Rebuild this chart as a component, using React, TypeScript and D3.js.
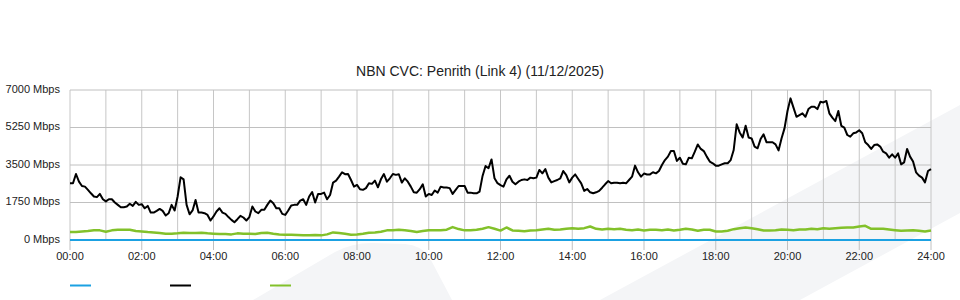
import React from 'react';
import * as d3 from 'd3';

const TITLE = 'NBN CVC: Penrith (Link 4) (11/12/2025)';
const yTicks = [0, 1750, 3500, 5250, 7000];
const xTickLabels = ['00:00','02:00','04:00','06:00','08:00','10:00','12:00','14:00','16:00','18:00','20:00','22:00','24:00'];
const legendColors = ['#1ba1e2', '#000000', '#82c12a'];

// black series, 5-minute samples from 00:00 to 24:00 (Mbps)
const blackMbps = [
  2650,2650,3080,2725,2520,2490,2340,2180,2030,2000,2150,1900,
  1800,1900,1900,1750,1640,1530,1530,1560,1690,1590,1780,1640,
  1670,1480,1590,1280,1280,1360,1450,1360,1140,1250,1640,1380,
  2030,2930,2830,1640,1200,1380,1870,1280,1280,1250,1170,910,
  1100,1330,1480,1280,1220,1070,940,830,970,1130,1050,910,
  1070,1560,1330,1250,1410,1410,1640,1840,1720,1480,1480,1220,
  1170,1380,1610,1640,1640,1840,1900,1640,2030,2240,1750,2150,
  2150,2210,1900,2100,2680,2770,2960,3160,3070,3080,2800,2490,
  2570,2370,2340,2420,2650,2620,2770,2460,2830,3080,2720,2880,
  3080,3040,3070,2680,2880,2720,2490,2230,2210,2370,2600,2030,
  2150,2100,2310,2210,2490,2450,2450,2420,2150,2340,2520,2520,
  2520,2210,2210,2180,2180,2260,2990,3450,3350,3760,2880,2650,
  2560,
  2490,2830,3000,2720,2600,2720,2800,2830,2800,2910,2880,2910,
  3270,3110,3310,2910,2690,2750,2800,2880,3220,3030,2690,2910,
  3060,2850,2645,2290,2380,2225,2180,2225,2290,2440,2600,2750,
  2645,2675,2675,2645,2675,2645,2800,2955,3470,3160,2955,3100,
  3060,3060,3160,3110,3220,3500,3730,3890,4150,4150,3690,3840,
  3560,3530,3840,3810,4120,4460,4250,4150,3890,3660,3580,3470,
  3470,3530,3580,3580,3730,4200,5400,5020,4780,5330,4780,4740,
  4360,4280,4710,4930,4560,4560,4560,4460,4180,4740,5210,6020,
  6610,6180,5750,5830,5910,5750,6110,6220,6220,6110,6450,6420,
  6490,5910,5710,5550,6020,5330,5240,4900,4820,4980,5020,5120,
  4980,4560,4430,4250,4430,4460,4360,4120,4040,3840,4000,3840,
  4040,3530,3620,4250,3890,3660,3160,3000,2910,2690,3220,3310,
];

// green series, 10-minute samples from 00:00 to 24:00 (Mbps)
const greenMbps = [
  370,370,402,418,450,450,
  386,450,480,480,480,418,
  402,370,355,325,294,294,
  310,340,325,325,340,310,
  294,278,278,262,310,294,
  294,278,325,340,294,262,
  247,247,230,216,216,230,
  216,262,355,325,294,247,
  262,294,340,355,386,450,
  450,480,450,418,370,418,
  450,450,450,480,603,510,
  450,450,480,526,600,526,
  440,584,444,429,413,444,
  460,491,522,475,491,522,
  553,522,553,631,522,491,
  522,506,522,475,460,491,
  444,475,475,460,491,444,
  475,522,491,429,475,475,
  398,398,429,506,553,584,
  553,506,444,444,460,491,
  475,460,491,491,522,506,
  553,522,553,569,584,584,
  631,660,520,522,522,491,
  460,429,444,460,429,398,
  444,
];

// blue series (Mbps) at 00:00 and 24:00
const blueMinutes = [0, 1440];
const blueMbps = [0, 0];

const FONT = '"Liberation Sans", Arial, Helvetica, sans-serif';

export default function App() {
  const W = 960, H = 300;
  const x = d3.scaleLinear().domain([0, 1440]).range([70, 931]);
  const y = d3.scaleLinear().domain([0, 7000]).range([240, 90]);

  const blackPath = d3.line<number>().x((_, i) => x(i * 5)).y(d => y(d))(blackMbps) || '';
  const greenPath = d3.line<number>().x((_, i) => x(i * 10)).y(d => y(d))(greenMbps) || '';
  const bluePath = d3.line<number>().x((_, i) => x(blueMinutes[i])).y(d => y(d))(blueMbps) || '';

  const hours = d3.range(0, 25);

  return (
    <div style={{ position: 'absolute', left: 0, top: 0 }}>
      <svg width={W} height={H} style={{ display: 'block', fontFamily: FONT }}>
        <rect x={0} y={0} width={W} height={H} fill="#ffffff" />
        {/* watermark shapes */}
        <path d="M253,300 L335,252 Q352,243 372,243 L405,244 Q425,246 432,262 L452,300 Z" fill="#f4f5f7" />
        <path d="M600,300 L960,105 L960,213 L800,300 Z" fill="#f4f5f7" />

        {/* grid */}
        {hours.map(h => (
          <line key={'v' + h} x1={x(h * 60)} x2={x(h * 60)} y1={y(7000)} y2={y(0)} stroke="#c6c6c6" strokeWidth={1} />
        ))}
        {yTicks.map(t => (
          <line key={'h' + t} x1={x(0)} x2={x(1440)} y1={y(t)} y2={y(t)} stroke="#c0c0c0" strokeWidth={1} />
        ))}
        {xTickLabels.map((lab, i) => (
          <g key={lab}>
            <line x1={x(i * 120)} x2={x(i * 120)} y1={y(0)} y2={y(0) + 10} stroke="#c0c0c0" strokeWidth={1} />
            <text x={x(i * 120)} y={260} textAnchor="middle" fontSize={11} fill="#222">{lab}</text>
          </g>
        ))}
        {yTicks.map(t => (
          <text key={'yl' + t} x={60} y={y(t) + 2.5} textAnchor="end" fontSize={11} fill="#222">{t} Mbps</text>
        ))}

        {/* series */}
        <path d={greenPath} fill="none" stroke="#82c12a" strokeWidth={2.5} strokeLinejoin="round" />
        <path d={blackPath} fill="none" stroke="#000" strokeWidth={2} strokeLinejoin="round" />
        <path d={bluePath} fill="none" stroke="#1ba1e2" strokeWidth={2} />

        {/* title */}
        <text x={480} y={76} textAnchor="middle" fontSize={14} fill="#222">{TITLE}</text>

        {/* legend */}
        {legendColors.map((c, i) => (
          <line key={c} x1={70 + i * 100} x2={91 + i * 100} y1={285.5} y2={285.5} stroke={c} strokeWidth={2} />
        ))}
      </svg>
    </div>
  );
}
